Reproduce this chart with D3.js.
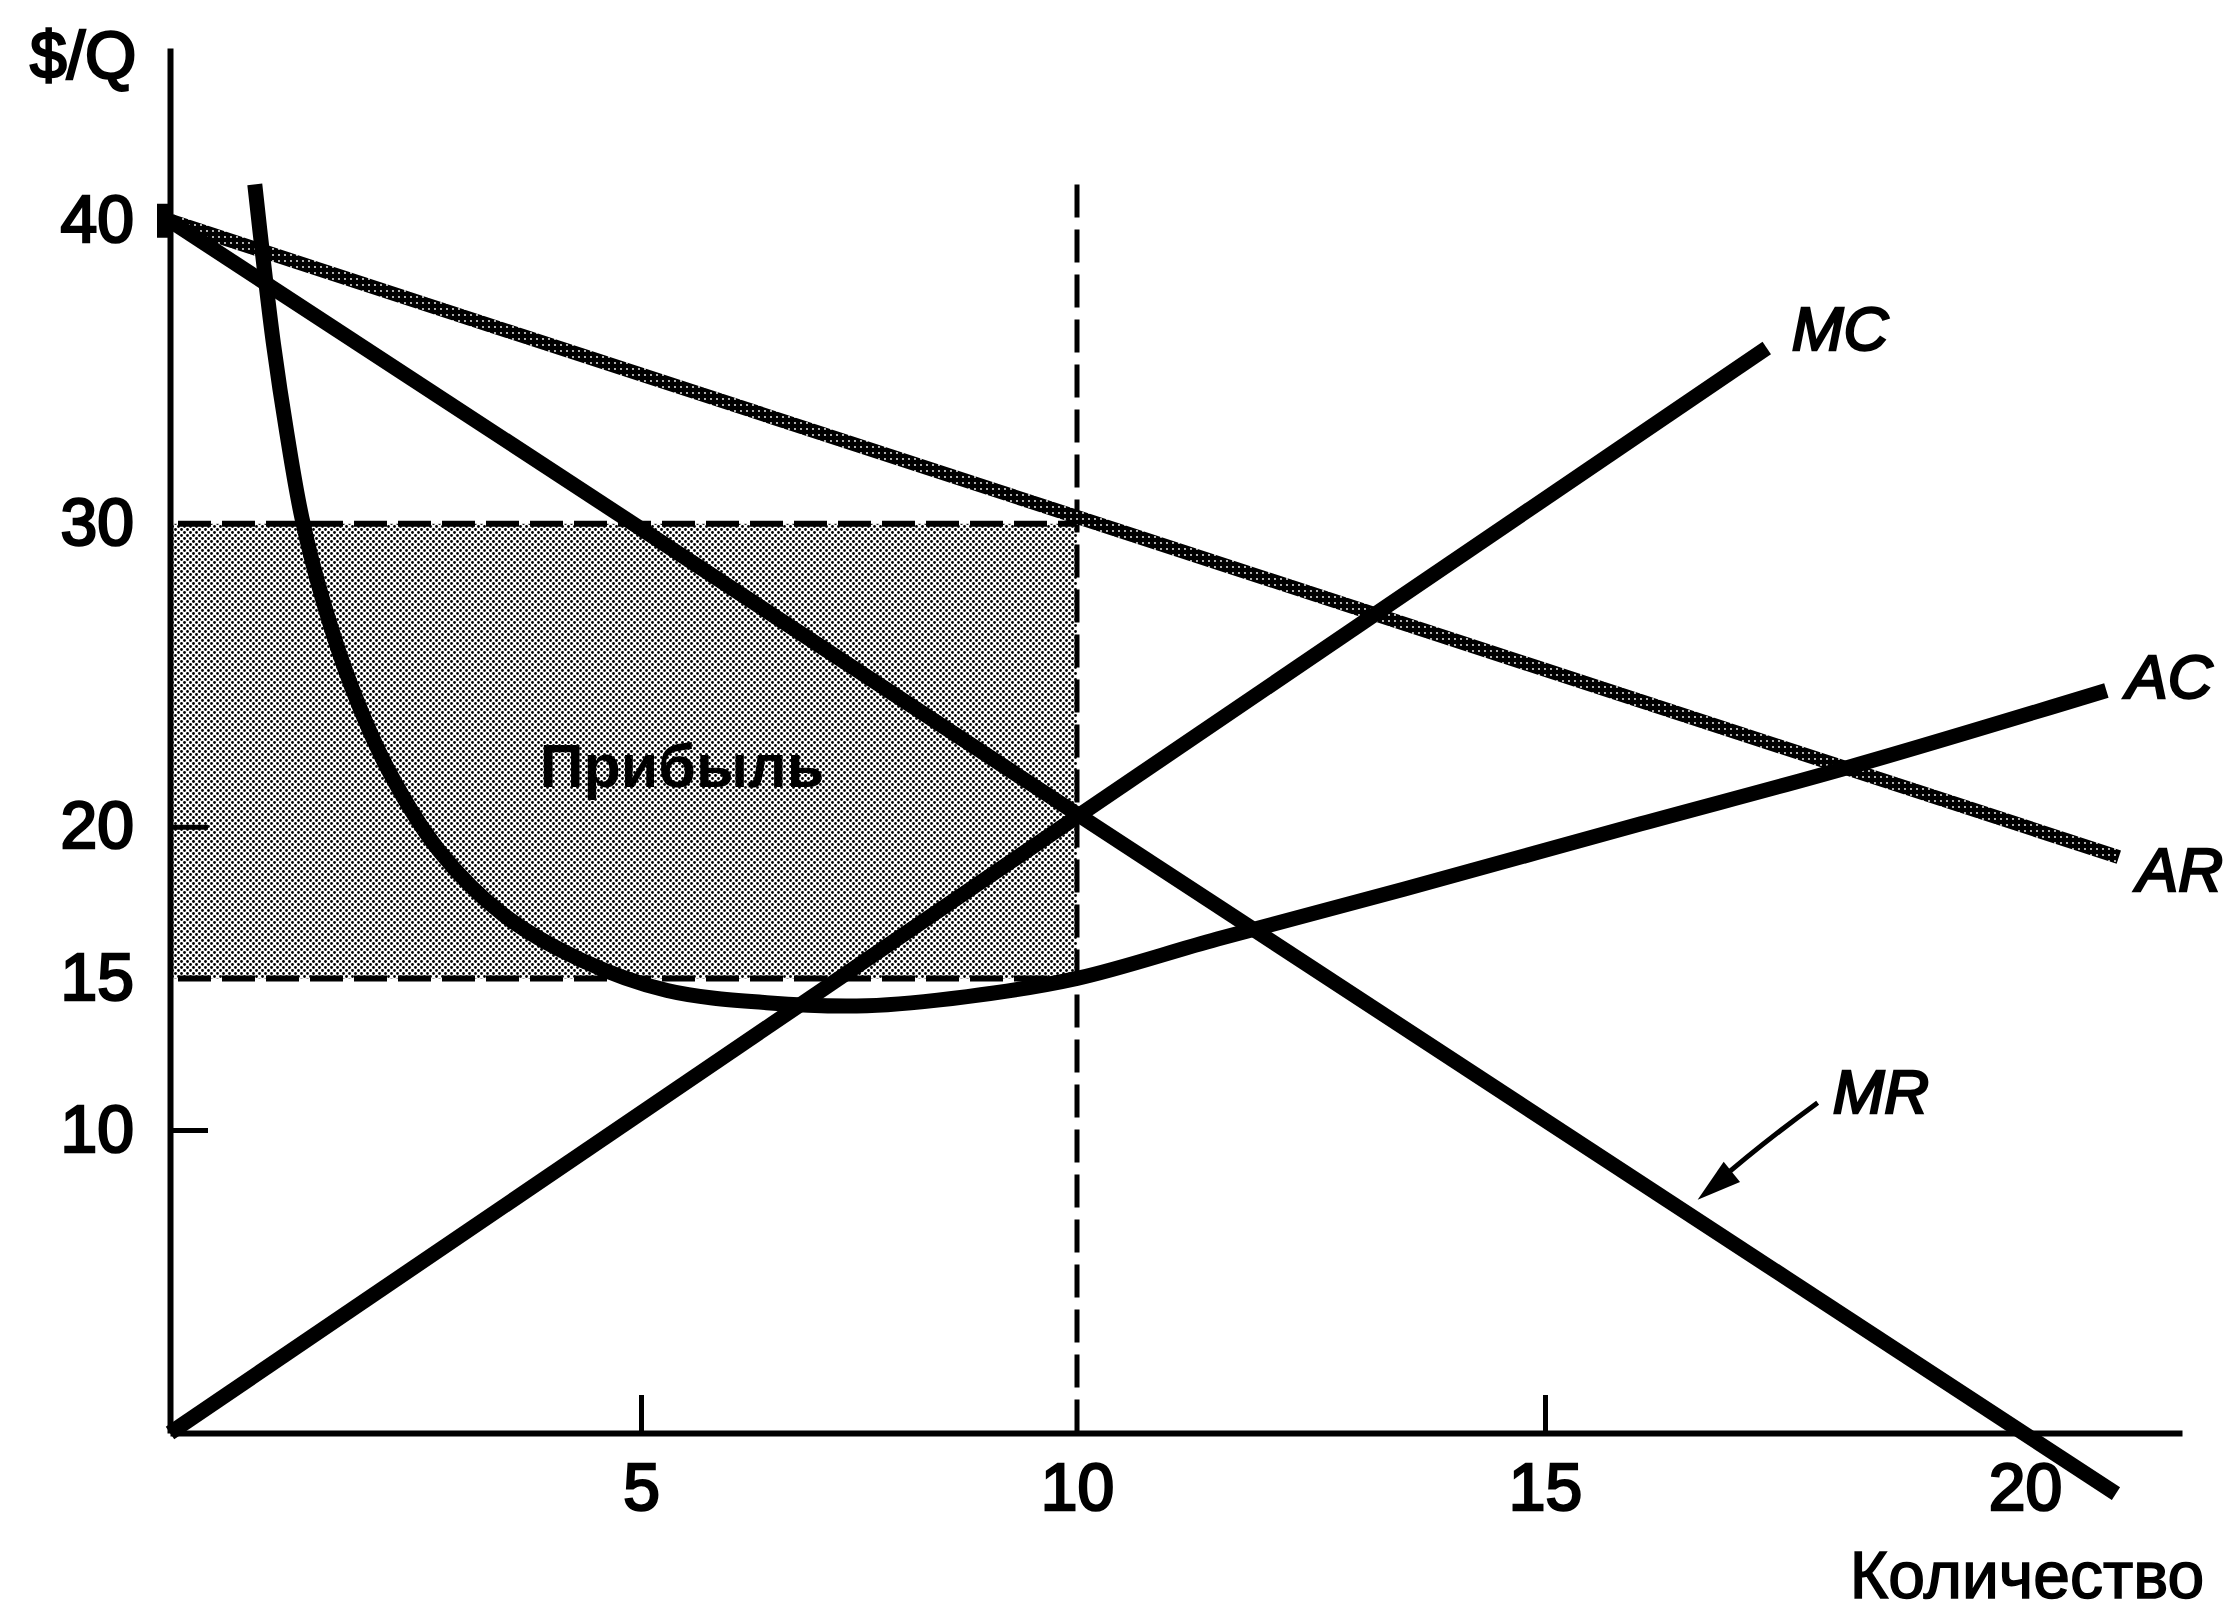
<!DOCTYPE html>
<html>
<head>
<meta charset="utf-8">
<script src="https://cdn.jsdelivr.net/npm/d3@7"></script>
<style>
  body { margin: 0; background: #fff; }
  svg text { font-family: "Liberation Sans", Arial, sans-serif; fill: #000; }
</style>
</head>
<body>
<div id="chart"></div>
<script>
// values (Q, $/Q)
const xTickValues = [5, 10, 15, 20];
const yTickValues = [10, 15, 20, 30, 40];
const arPoints = [[0, 40], [20.98, 19.0]];
const mrPoints = [[0, 40], [20.95, -2.0]];
const mcPoints = [[0, 0], [17.31, 35.8]];
const acPoints = [
  [0.90, 41.2], [0.99, 38.7], [1.10, 35.9], [1.24, 33.0], [1.40, 30.2],
  [1.63, 27.4], [1.93, 24.6], [2.33, 21.8], [2.86, 19.2], [3.54, 17.1],
  [4.37, 15.6], [5.30, 14.6], [6.44, 14.2], [7.59, 14.1], [8.74, 14.4],
  [10.0, 15.0], [11.5, 16.3], [13.5, 17.95], [16.0, 20.1],
  [18.2, 22.0], [20.85, 24.5]
];
const profitQ = 10;
const profitPrice = 30;
const profitCost = 15;
const dashTop = 41.2;

const w = 2234;
const h = 1617;

//Scales (the drawn Q axis is slightly uneven, so knots follow the printed ticks)
const xScale = d3.scaleLinear()
                 .domain([0, 5, 10, 15, 20, 21.64])
                 .range([170, 641, 1077, 1545, 2025, 2182]);

const yScale = d3.scaleLinear()
                 .domain([0, 45.7])
                 .range([1433, 48]);

const svg = d3.select('#chart')
              .append('svg')
              .attr('width', w)
              .attr('height', h);

//Patterns: halftone for profit area, speckled stroke for AR
const defs = svg.append('defs');
const dots = defs.append('pattern')
                 .attr('id', 'halftone')
                 .attr('patternUnits', 'userSpaceOnUse')
                 .attr('width', 6)
                 .attr('height', 6);
dots.append('rect').attr('width', 6).attr('height', 6).attr('fill', '#fff');
dots.append('circle').attr('cx', 1.5).attr('cy', 1.5).attr('r', 1.4).attr('fill', '#000');
dots.append('circle').attr('cx', 4.5).attr('cy', 4.5).attr('r', 1.4).attr('fill', '#000');

const speckle = defs.append('pattern')
                    .attr('id', 'speckle')
                    .attr('patternUnits', 'userSpaceOnUse')
                    .attr('width', 6)
                    .attr('height', 6);
speckle.append('rect').attr('width', 6).attr('height', 6).attr('fill', '#000');
speckle.append('circle').attr('cx', 3).attr('cy', 3).attr('r', 0.9).attr('fill', '#fff');

//Profit area
svg.append('rect')
   .attr('x', xScale(0))
   .attr('y', yScale(profitPrice))
   .attr('width', xScale(profitQ) - xScale(0))
   .attr('height', yScale(profitCost) - yScale(profitPrice))
   .attr('fill', 'url(#halftone)');

//Dashed guides
[profitPrice, profitCost].forEach(v => {
  svg.append('line')
     .attr('x1', xScale(0) + 8)
     .attr('x2', xScale(profitQ))
     .attr('y1', yScale(v))
     .attr('y2', yScale(v))
     .attr('stroke', '#000')
     .attr('stroke-width', 6)
     .attr('stroke-dasharray', '33,11');
});

svg.append('line')
   .attr('x1', xScale(profitQ))
   .attr('x2', xScale(profitQ))
   .attr('y1', yScale(dashTop))
   .attr('y2', yScale(0))
   .attr('stroke', '#000')
   .attr('stroke-width', 5)
   .attr('stroke-dasharray', '33,12');

//Curves
const line = d3.line()
               .x(d => xScale(d[0]))
               .y(d => yScale(d[1]));

svg.append('path')
   .datum(arPoints)
   .attr('d', line)
   .attr('fill', 'none')
   .attr('stroke', 'url(#speckle)')
   .attr('stroke-width', 14);

svg.append('path')
   .datum(mrPoints)
   .attr('d', line)
   .attr('fill', 'none')
   .attr('stroke', '#000')
   .attr('stroke-width', 15);

svg.append('path')
   .datum(mcPoints)
   .attr('d', line)
   .attr('fill', 'none')
   .attr('stroke', '#000')
   .attr('stroke-width', 15);

svg.append('path')
   .datum(acPoints)
   .attr('d', d3.line().x(d => xScale(d[0])).y(d => yScale(d[1])).curve(d3.curveCatmullRom.alpha(0.5)))
   .attr('fill', 'none')
   .attr('stroke', '#000')
   .attr('stroke-width', 15);

//Axes
const xAxis = d3.axisBottom(xScale)
                .tickValues(xTickValues)
                .tickFormat(d3.format('d'))
                .tickSizeInner(-38)
                .tickSizeOuter(0)
                .tickPadding(30);

const yAxis = d3.axisLeft(yScale)
                .tickValues(yTickValues)
                .tickFormat(d3.format('d'))
                .tickSizeInner(-38)
                .tickSizeOuter(0)
                .tickPadding(36);

const gx = svg.append('g')
              .attr('transform', `translate(0, ${yScale(0)})`)
              .call(xAxis);

const gy = svg.append('g')
              .attr('transform', `translate(${xScale(0)}, 0)`)
              .call(yAxis);

[gx, gy].forEach(g => {
  g.attr('font-family', null).attr('font-size', null);
  g.select('.domain').attr('stroke', '#000').attr('stroke-width', 6);
  g.selectAll('.tick line').attr('stroke', '#000').attr('stroke-width', 5);
  g.selectAll('.tick text')
   .style('font-size', '66px')
   .attr('fill', '#000')
   .attr('stroke', '#000')
   .attr('stroke-width', 2.5);
});

//only some ticks carry a mark in the original
gx.selectAll('.tick').filter(d => d === 10 || d === 20).select('line').remove();
gy.selectAll('.tick').filter(d => d === 15 || d === 30 || d === 40).select('line').remove();

//thick stub at 40
svg.append('line')
   .attr('x1', xScale(0) - 13)
   .attr('x2', xScale(0))
   .attr('y1', yScale(40))
   .attr('y2', yScale(40))
   .attr('stroke', '#000')
   .attr('stroke-width', 34);

//Axis titles
svg.append('text')
   .attr('x', 30)
   .attr('y', 78)
   .style('font-size', '66px')
   .attr('stroke', '#000')
   .attr('stroke-width', 2.5)
   .text('$/Q');

svg.append('text')
   .attr('x', 2027)
   .attr('y', 1598)
   .attr('text-anchor', 'middle')
   .style('font-size', '66px')
   .attr('stroke', '#000')
   .attr('stroke-width', 1.5)
   .text('Количество');

//Curve labels
const curveLabels = [
  {text: 'MC', pt: mcPoints[1], dx: 25, dy: 2},
  {text: 'AC', pt: acPoints[acPoints.length - 1], dx: 20, dy: 8},
  {text: 'AR', pt: arPoints[1], dx: 18, dy: 34}
];

svg.selectAll('.curve-label')
   .data(curveLabels)
   .enter()
   .append('text')
   .attr('class', 'curve-label')
   .attr('x', d => xScale(d.pt[0]) + d.dx)
   .attr('y', d => yScale(d.pt[1]) + d.dy)
   .style('font-size', '62px')
   .style('font-style', 'italic')
   .attr('stroke', '#000')
   .attr('stroke-width', 2.5)
   .text(d => d.text);

//MR label with arrow
const mrTail = [17.84, 10.9];
const mrTip = [16.59, 7.7];
const tx = xScale(mrTail[0]), ty = yScale(mrTail[1]);
const px = xScale(mrTip[0]), py = yScale(mrTip[1]);

svg.append('text')
   .attr('x', tx + 15)
   .attr('y', ty + 10)
   .style('font-size', '62px')
   .style('font-style', 'italic')
   .attr('stroke', '#000')
   .attr('stroke-width', 2.5)
   .text('MR');

svg.append('path')
   .attr('d', `M${tx},${ty} Q${(tx + px) / 2 + 2},${(ty + py) / 2 - 6} ${px + 18},${py - 16}`)
   .attr('fill', 'none')
   .attr('stroke', '#000')
   .attr('stroke-width', 5);

const ang = Math.atan2(py - ty, px - tx);
const hl = 44, hw = 13;
const bx = px - hl * Math.cos(ang), by = py - hl * Math.sin(ang);
svg.append('path')
   .attr('d', `M${px},${py} L${bx - hw * Math.sin(ang)},${by + hw * Math.cos(ang)} L${bx + hw * Math.sin(ang)},${by - hw * Math.cos(ang)} Z`)
   .attr('fill', '#000');

//Profit label
svg.append('text')
   .attr('x', 682)
   .attr('y', yScale(21.3))
   .attr('text-anchor', 'middle')
   .style('font-size', '61px')
   .style('font-weight', 'bold')
   .text('Прибыль');
</script>
</body>
</html>
